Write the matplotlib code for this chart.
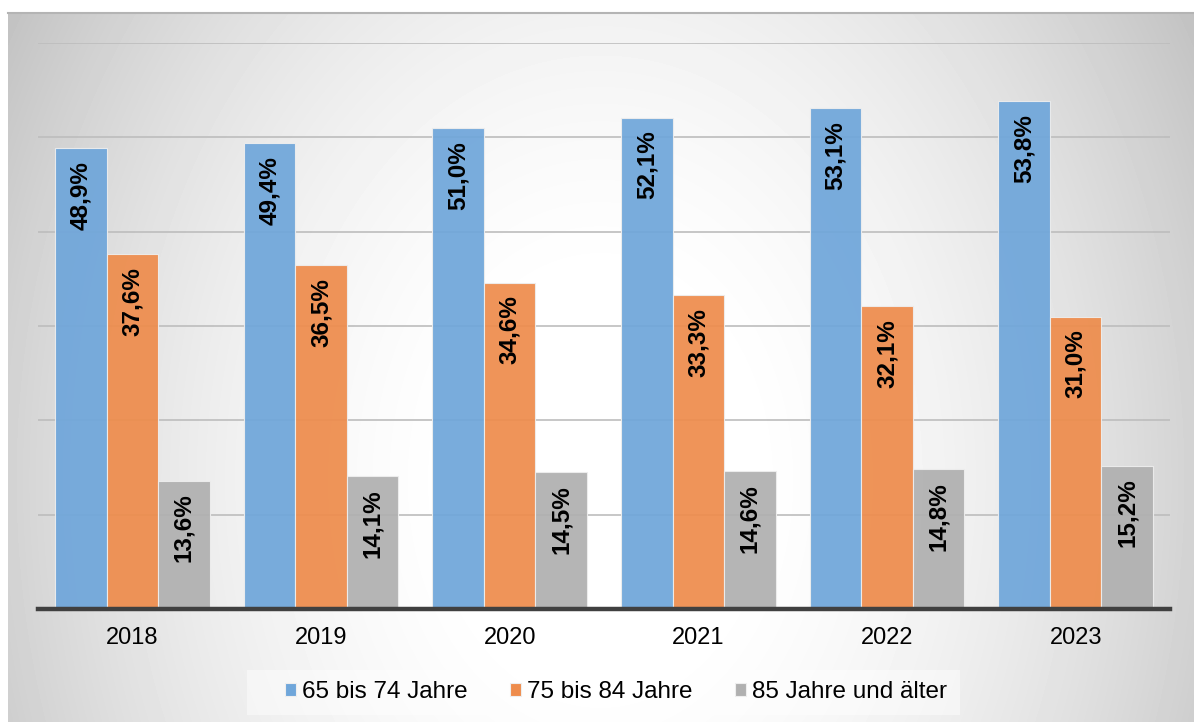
import numpy as np
import matplotlib
matplotlib.use('Agg')
import matplotlib.pyplot as plt
from matplotlib.patches import Patch, Rectangle

plt.rcParams['font.family'] = ['Liberation Sans', 'DejaVu Sans']

years = ['2018', '2019', '2020', '2021', '2022', '2023']
series_names = ['65 bis 74 Jahre', '75 bis 84 Jahre', '85 Jahre und älter']
age_65_74 = [48.9, 49.4, 51.0, 52.1, 53.1, 53.8]
age_75_84 = [37.6, 36.5, 34.6, 33.3, 32.1, 31.0]
age_85_plus = [13.6, 14.1, 14.5, 14.6, 14.8, 15.2]
colors = ['#6FA6DA', '#EE8C4C', '#B0B0B0']

W, H = 1194, 722
fig = plt.figure(figsize=(W / 100, H / 100), dpi=100)
fig.patch.set_facecolor('white')

# radial grey background of the chart area
bg_left, bg_top = 8, 13
bg = fig.add_axes([bg_left / W, 0, 1 - bg_left / W, (H - bg_top) / H], zorder=-5)
yy, xx = np.mgrid[bg_top:H, bg_left:W]
r2 = ((xx - 600) / 690.0) ** 2 + ((yy - 480) / 910.0) ** 2
shade = np.clip(258 - 64 * r2, 190, 255) / 255.0
bg.imshow(shade, cmap='gray', vmin=0, vmax=1, aspect='auto', interpolation='bilinear')
bg.axis('off')
fig.add_artist(plt.Line2D([bg_left / W, 1], [(H - bg_top) / H] * 2,
                          color='#b4b4b4', lw=1.5, transform=fig.transFigure))

ax = fig.add_axes([38 / W, (H - 609) / H, (1170 - 38) / W, (609 - 43) / H])
ax.set_facecolor('none')

x = np.arange(len(years))
bw = 0.273
data = [age_65_74, age_75_84, age_85_plus]
for i, (vals, col) in enumerate(zip(data, colors)):
    bars = ax.bar(x + (i - 1) * bw, vals, bw, color=col, alpha=0.93,
                  edgecolor='#eeeeee', linewidth=0.8, zorder=3)
    for b, v in zip(bars, vals):
        ax.annotate(f'{v:.1f}%'.replace('.', ','),
                    (b.get_x() + b.get_width() / 2, v),
                    xytext=(0, -13), textcoords='offset pixels',
                    rotation=90, ha='center', va='top',
                    fontsize=17.5, fontweight='bold', color='black', zorder=4)

ax.set_xlim(-0.5, len(years) - 0.5)
ax.set_ylim(0, 60)
ax.set_yticks(np.arange(10, 61, 10))
ax.yaxis.grid(True, color='#bdbdbd', lw=1.2, zorder=0)
ax.set_axisbelow(True)
ax.tick_params(axis='y', left=False, labelleft=False)
ax.set_xticks(x)
ax.set_xticklabels(years, fontsize=17)
ax.tick_params(axis='x', length=0, pad=13)
for s in ['top', 'right', 'left']:
    ax.spines[s].set_visible(False)
ax.spines['bottom'].set_color('#404040')
ax.spines['bottom'].set_linewidth(3.2)
ax.spines['bottom'].set_zorder(5)

# legend box drawn separately (wider than the entries)
fig.add_artist(Rectangle((247 / W, (H - 715) / H), (960 - 247) / W, 45 / H,
                         transform=fig.transFigure, facecolor='white',
                         alpha=0.45, edgecolor='none'))
handles = [Patch(facecolor=c, edgecolor='#eeeeee', lw=0.8) for c in colors]
fig.legend(handles, series_names, loc='center', ncol=3,
           bbox_to_anchor=(616 / W, (H - 692) / H), fontsize=17.5,
           handlelength=0.45, handleheight=0.45, handletextpad=0.25,
           columnspacing=1.75, frameon=False)

fig.savefig('out.png', dpi=100)
